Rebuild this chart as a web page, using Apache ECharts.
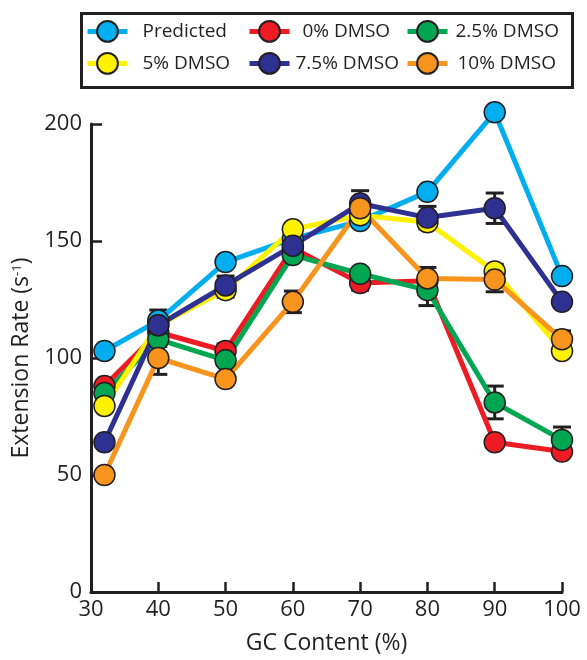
<!DOCTYPE html>
<html>
<head>
<meta charset="utf-8">
<script src="https://cdn.jsdelivr.net/npm/echarts@6/dist/echarts.min.js"></script>
<style>
html,body{margin:0;padding:0;background:#fff;}
#chart{width:587px;height:660px;}
</style>
</head>
<body>
<div id="chart"></div>
<script>
// GC content (%) of each measured point
const gcContent = [32, 40, 50, 60, 70, 80, 90, 100];
const xTicks = [30, 40, 50, 60, 70, 80, 90, 100];
const yTicks = [0, 50, 100, 150, 200];

const seriesNames = ['Predicted', '0% DMSO', '2.5% DMSO', '5% DMSO', '7.5% DMSO', '10% DMSO'];

const predicted = [103, 116, 141, 151, 158.5, 171, 205, 135];
const dmso0     = [88, 111, 103, 147, 132, 133, 64, 60];
const dmso25    = [85, 108, 99, 144, 136, 129, 81, 65];
const dmso5     = [79.5, 114, 129, 155, 161, 158, 137, 103];
const dmso75    = [64, 114, 131, 148, 166, 160, 164, 124];
const dmso10    = [50, 100, 91, 124, 164, 134, 133.5, 108];

const err0   = [2, 3, 3, 2, 3, 3, 2, 2];
const err25  = [2, 3, 2, 2, 2, 6.6, 7, 5.5];
const err5   = [2, 3, 3, 2, 2, 2, 3, 2];
const err75  = [2, 6.5, 4, 3, 5.5, 4.8, 6.5, 2];
const err10  = [2, 7, 2, 4.6, 4, 4.7, 5.2, 3.6];

const colors = ['#00aeef', '#ed1c24', '#00a651', '#fff200', '#2e3192', '#f7941d'];
const values = [predicted, dmso0, dmso25, dmso5, dmso75, dmso10];
const errors = [null, err0, err25, err5, err75, err10];

const ink = '#231f20';
const font = 'Open Sans';

function errRender(params, api) {
  const x = api.value(0), lo = api.value(1), hi = api.value(2);
  const top = api.coord([x, hi]);
  const bot = api.coord([x, lo]);
  const hw = 9;
  const style = {stroke: ink, lineWidth: 3, fill: null};
  return {type: 'group', children: [
    {type: 'line', shape: {x1: top[0], y1: top[1], x2: bot[0], y2: bot[1]}, style: style},
    {type: 'line', shape: {x1: top[0] - hw, y1: top[1], x2: top[0] + hw, y2: top[1]}, style: style},
    {type: 'line', shape: {x1: bot[0] - hw, y1: bot[1], x2: bot[0] + hw, y2: bot[1]}, style: style}
  ]};
}

const series = [];
seriesNames.forEach((name, k) => {
  if (errors[k]) {
    series.push({
      type: 'custom',
      name: name + ' error',
      renderItem: errRender,
      encode: {x: 0, y: [1, 2]},
      data: gcContent.map((g, i) => [g, values[k][i] - errors[k][i], values[k][i] + errors[k][i]]),
      clip: false,
      silent: true
    });
  }
  series.push({
    type: 'line',
    name: name,
    data: gcContent.map((g, i) => [g, values[k][i]]),
    symbol: 'circle',
    symbolSize: 21,
    color: colors[k],
    clip: false,
    lineStyle: {width: 5, color: colors[k]},
    itemStyle: {color: colors[k], borderColor: ink, borderWidth: 1.5},
    emphasis: {disabled: true},
    silent: true
  });
});

// legend layout: icon left, row top, text padding
const legendPos = [
  {left: 85, top: 20, pad: 10},
  {left: 247, top: 20, pad: 8},
  {left: 405, top: 20, pad: 3},
  {left: 85, top: 52, pad: 10},
  {left: 247, top: 52, pad: 1},
  {left: 405, top: 52, pad: 5}
];
const legends = seriesNames.map((name, k) => ({
  data: [name],
  left: legendPos[k].left,
  top: legendPos[k].top,
  padding: 0,
  itemWidth: 40,
  itemHeight: 26,
  selectedMode: false,
  lineStyle: {width: 5},
  textStyle: {fontFamily: font, fontSize: 19, color: ink, padding: [0, 0, 0, legendPos[k].pad]}
}));

const chart = echarts.init(document.getElementById('chart'), null, {renderer: 'canvas'});
chart.setOption({
  animation: false,
  backgroundColor: '#fff',
  textStyle: {fontFamily: font},
  graphic: [{
    type: 'rect',
    left: 80, top: 12,
    shape: {width: 491, height: 74},
    style: {fill: '#fff', stroke: ink, lineWidth: 3},
    z: 0
  }],
  legend: legends,
  grid: {left: 91, right: 25, top: 124, bottom: 63, containLabel: false},
  xAxis: {
    type: 'value',
    min: xTicks[0], max: xTicks[xTicks.length - 1], interval: 10,
    name: 'GC Content (%)',
    nameLocation: 'middle',
    nameGap: 40,
    nameTextStyle: {fontFamily: font, fontSize: 23, color: ink},
    axisLine: {lineStyle: {color: ink, width: 3}},
    axisTick: {inside: true, length: 10, lineStyle: {color: ink, width: 2.5}},
    axisLabel: {fontFamily: font, fontSize: 22, color: ink, margin: 7},
    splitLine: {show: false}
  },
  yAxis: {
    type: 'value',
    min: yTicks[0], max: yTicks[yTicks.length - 1], interval: 50,
    name: '{a|Extension Rate (s}{b|-1}{a|)}',
    nameLocation: 'middle',
    nameGap: 45,
    nameRotate: 90,
    nameTextStyle: {
      rich: {
        a: {fontFamily: font, fontSize: 23, color: ink},
        b: {fontFamily: font, fontSize: 13, color: ink, verticalAlign: 'top', padding: [0, 0, 10, 0]}
      }
    },
    axisLine: {show: true, lineStyle: {color: ink, width: 3}},
    axisTick: {show: true, inside: true, length: 11, lineStyle: {color: ink, width: 2.5}},
    axisLabel: {fontFamily: font, fontSize: 22, color: ink, margin: 9},
    splitLine: {show: false}
  },
  series: series
});
</script>
</body>
</html>
